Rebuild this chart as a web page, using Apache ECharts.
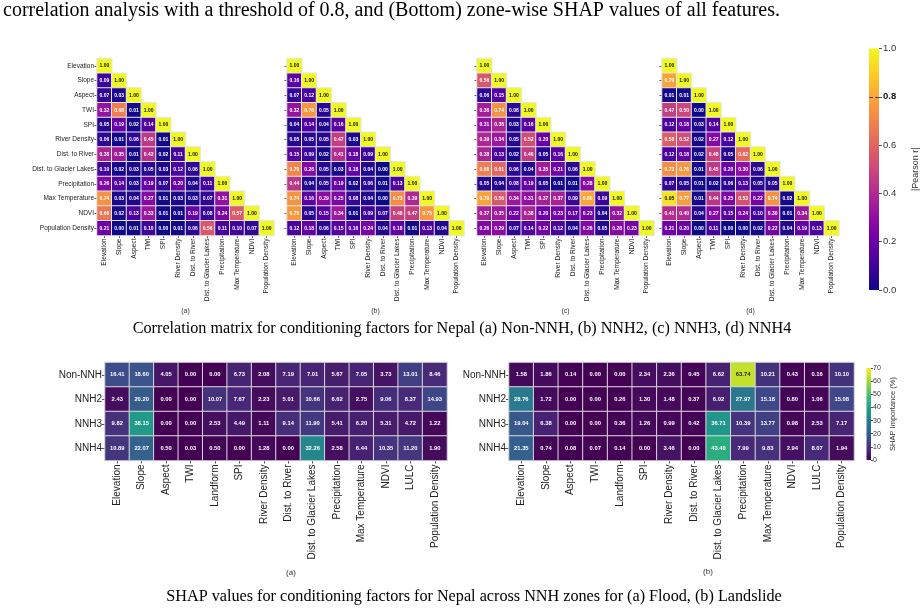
<!DOCTYPE html>
<html>
<head>
<meta charset="utf-8">
<script src="https://cdn.jsdelivr.net/npm/echarts@6.0.0/dist/echarts.min.js"></script>
<style>html,body{margin:0;background:#fff}#chart{width:921px;height:612px}</style>
</head>
<body>
<div id="chart"></div>
<script>
var corrFactors = ['Elevation', 'Slope', 'Aspect', 'TWI', 'SPI', 'River Density', 'Dist. to River',
  'Dist. to Glacier Lakes', 'Precipitation', 'Max Temperature', 'NDVI', 'Population Density'];

// lower triangles of |Pearson r|, row by row
var corrNonNNH = [
  [1.00],
  [0.09, 1.00],
  [0.07, 0.03, 1.00],
  [0.32, 0.68, 0.01, 1.00],
  [0.05, 0.19, 0.02, 0.14, 1.00],
  [0.06, 0.01, 0.06, 0.45, 0.01, 1.00],
  [0.38, 0.35, 0.01, 0.42, 0.02, 0.11, 1.00],
  [0.10, 0.02, 0.03, 0.05, 0.03, 0.12, 0.06, 1.00],
  [0.26, 0.14, 0.03, 0.19, 0.07, 0.20, 0.04, 0.11, 1.00],
  [0.74, 0.03, 0.04, 0.27, 0.01, 0.03, 0.03, 0.07, 0.31, 1.00],
  [0.66, 0.02, 0.13, 0.33, 0.01, 0.01, 0.19, 0.08, 0.24, 0.57, 1.00],
  [0.21, 0.00, 0.01, 0.10, 0.00, 0.01, 0.06, 0.56, 0.11, 0.10, 0.07, 1.00]
];
var corrNNH2 = [
  [1.00],
  [0.16, 1.00],
  [0.07, 0.12, 1.00],
  [0.32, 0.76, 0.05, 1.00],
  [0.04, 0.14, 0.04, 0.16, 1.00],
  [0.05, 0.05, 0.05, 0.47, 0.03, 1.00],
  [0.15, 0.09, 0.02, 0.41, 0.18, 0.09, 1.00],
  [0.70, 0.26, 0.05, 0.03, 0.18, 0.04, 0.00, 1.00],
  [0.44, 0.04, 0.05, 0.19, 0.02, 0.06, 0.01, 0.13, 1.00],
  [0.74, 0.16, 0.29, 0.25, 0.08, 0.04, 0.00, 0.73, 0.39, 1.00],
  [0.76, 0.05, 0.15, 0.34, 0.01, 0.09, 0.07, 0.48, 0.47, 0.75, 1.00],
  [0.12, 0.18, 0.06, 0.15, 0.16, 0.24, 0.04, 0.18, 0.01, 0.13, 0.04, 1.00]
];
var corrNNH3 = [
  [1.00],
  [0.56, 1.00],
  [0.06, 0.15, 1.00],
  [0.36, 0.74, 0.06, 1.00],
  [0.31, 0.38, 0.03, 0.16, 1.00],
  [0.39, 0.34, 0.05, 0.52, 0.20, 1.00],
  [0.38, 0.13, 0.02, 0.46, 0.05, 0.16, 1.00],
  [0.68, 0.61, 0.06, 0.04, 0.35, 0.21, 0.06, 1.00],
  [0.05, 0.04, 0.08, 0.19, 0.05, 0.01, 0.01, 0.28, 1.00],
  [0.79, 0.56, 0.34, 0.31, 0.37, 0.37, 0.09, 0.80, 0.09, 1.00],
  [0.37, 0.35, 0.22, 0.38, 0.20, 0.23, 0.17, 0.23, 0.04, 0.32, 1.00],
  [0.26, 0.29, 0.07, 0.14, 0.22, 0.12, 0.04, 0.26, 0.05, 0.28, 0.23, 1.00]
];
var corrNNH4 = [
  [1.00],
  [0.79, 1.00],
  [0.01, 0.01, 1.00],
  [0.47, 0.50, 0.00, 1.00],
  [0.12, 0.18, 0.03, 0.14, 1.00],
  [0.58, 0.52, 0.02, 0.27, 0.12, 1.00],
  [0.12, 0.18, 0.02, 0.48, 0.05, 0.62, 1.00],
  [0.73, 0.76, 0.01, 0.45, 0.20, 0.30, 0.06, 1.00],
  [0.07, 0.05, 0.01, 0.02, 0.06, 0.13, 0.05, 0.05, 1.00],
  [0.95, 0.77, 0.01, 0.44, 0.25, 0.53, 0.22, 0.74, 0.02, 1.00],
  [0.41, 0.40, 0.04, 0.27, 0.15, 0.24, 0.10, 0.30, 0.01, 0.34, 1.00],
  [0.21, 0.20, 0.00, 0.11, 0.00, 0.00, 0.02, 0.22, 0.04, 0.19, 0.13, 1.00]
];
var corrPanels = ['(a)', '(b)', '(c)', '(d)'];

var shapFactors = ['Elevation', 'Slope', 'Aspect', 'TWI', 'Landform', 'SPI', 'River Density', 'Dist. to River',
  'Dist. to Glacier Lakes', 'Precipitation', 'Max Temperature', 'NDVI', 'LULC', 'Population Density'];
var shapZones = ['Non-NNH', 'NNH2', 'NNH3', 'NNH4'];
var shapFlood = [
  [16.41, 18.60, 4.05, 0.00, 0.00, 6.73, 2.08, 7.19, 7.01, 5.67, 7.05, 3.73, 13.01, 8.46],
  [2.43, 20.20, 0.00, 0.00, 10.07, 7.67, 2.23, 5.01, 10.66, 6.62, 2.75, 9.06, 8.37, 14.93],
  [9.82, 38.15, 0.00, 0.00, 2.53, 4.49, 1.11, 9.14, 11.90, 5.41, 6.20, 5.31, 4.72, 1.22],
  [10.89, 22.07, 0.50, 0.03, 0.50, 0.00, 1.28, 0.00, 32.26, 2.58, 6.44, 10.35, 11.20, 1.90]
];
var shapLandslide = [
  [1.58, 1.86, 0.14, 0.00, 0.00, 2.34, 2.36, 0.45, 6.62, 63.74, 10.21, 0.43, 0.16, 10.10],
  [28.76, 1.72, 0.00, 0.00, 0.26, 1.30, 1.48, 0.37, 6.02, 27.97, 15.18, 0.80, 1.06, 15.08],
  [19.04, 6.38, 0.00, 0.00, 0.36, 1.26, 0.99, 0.42, 36.71, 10.39, 13.77, 0.98, 2.53, 7.17],
  [21.35, 0.74, 0.08, 0.07, 0.14, 0.00, 3.46, 0.00, 43.40, 7.99, 9.83, 2.94, 8.07, 1.94]
];

var plasma = ['#0d0887', '#41049d', '#6a00a8', '#8f0da4', '#b12a90', '#cc4778',
  '#e16462', '#f2844b', '#fca636', '#fcce25', '#f0f921'];
var viridis = ['#440154', '#482878', '#3e4989', '#31688e', '#26828e', '#1f9e89',
  '#35b779', '#6ece58', '#b5de2b', '#fde725'];

var sans = '"Liberation Sans", Arial, sans-serif';
var serif = '"Liberation Serif", "Times New Roman", serif';

var chart = echarts.init(document.getElementById('chart'));

function triData(rows) {
  var out = [];
  rows.forEach(function (row, i) {
    row.forEach(function (v, j) {
      out.push({ value: [j, i, v], label: { color: v > 0.9 ? '#111' : '#fff' } });
    });
  });
  return out;
}
function gridData(rows) {
  var out = [];
  rows.forEach(function (row, i) {
    row.forEach(function (v, j) {
      out.push({ value: [j, i, v], label: { color: v > 50 ? '#222' : '#fff' } });
    });
  });
  return out;
}
function stops(cols) {
  return cols.map(function (c, i) { return { offset: i / (cols.length - 1), color: c }; });
}

var corrLeft = [97, 287, 477, 662];
var corrSets = [corrNonNNH, corrNNH2, corrNNH3, corrNNH4];
var grids = [], xAxes = [], yAxes = [], series = [];

corrSets.forEach(function (set, k) {
  grids.push({ left: corrLeft[k], top: 58.5, width: 177, height: 177 });
  xAxes.push({
    type: 'category', gridIndex: k, data: corrFactors, splitArea: { show: false },
    axisLine: { show: false },
    axisTick: { show: true, alignWithLabel: true, length: 2.5, lineStyle: { color: '#555' } },
    axisLabel: { rotate: 90, interval: 0, fontSize: 6.6, fontFamily: sans, color: '#222', margin: 3 }
  });
  yAxes.push({
    type: 'category', gridIndex: k, data: corrFactors, inverse: true, splitArea: { show: false },
    axisLine: { show: false },
    axisTick: { show: true, alignWithLabel: true, length: 2.5, lineStyle: { color: '#555' } },
    axisLabel: { show: k === 0, interval: 0, fontSize: 6.5, fontFamily: sans, color: '#222', margin: 3 }
  });
  series.push({
    type: 'heatmap', xAxisIndex: k, yAxisIndex: k, data: triData(set),
    itemStyle: { borderColor: '#e6e6e6', borderWidth: 1 },
    label: {
      show: true, fontSize: 5, fontWeight: 'bold', fontFamily: sans,
      formatter: function (p) { return p.value[2].toFixed(2); }
    },
    emphasis: { disabled: true }
  });
});

var shapLeft = [105, 509];
var shapWidth = [342, 345];
[shapFlood, shapLandslide].forEach(function (set, k) {
  var gi = 4 + k;
  grids.push({ left: shapLeft[k], top: 362.5, width: shapWidth[k], height: 98 });
  xAxes.push({
    type: 'category', gridIndex: gi, data: shapFactors, splitArea: { show: false },
    axisLine: { show: false },
    axisTick: { show: true, alignWithLabel: true, length: 3, lineStyle: { color: '#555' } },
    axisLabel: { rotate: 90, interval: 0, fontSize: 10, fontFamily: sans, color: '#222', margin: 4 }
  });
  yAxes.push({
    type: 'category', gridIndex: gi, data: shapZones, inverse: true, splitArea: { show: false },
    axisLine: { show: false },
    axisTick: { show: true, alignWithLabel: true, length: 3, lineStyle: { color: '#555' } },
    axisLabel: { interval: 0, fontSize: 10, fontFamily: sans, color: '#222', margin: 3 }
  });
  series.push({
    type: 'heatmap', xAxisIndex: gi, yAxisIndex: gi, data: gridData(set),
    itemStyle: { borderColor: '#d8d8d8', borderWidth: 1 },
    label: {
      show: true, fontSize: 5.8, fontWeight: 'bold', fontFamily: sans,
      formatter: function (p) { return p.value[2].toFixed(2); }
    },
    emphasis: { disabled: true }
  });
});

// colour bars
grids.push({ left: 869, top: 48.5, width: 10, height: 241.5 });
xAxes.push({ type: 'category', gridIndex: 6, data: [''], show: false });
yAxes.push({
  type: 'value', gridIndex: 6, min: 0, max: 1, interval: 0.2, position: 'right',
  name: '|Pearson r|', nameLocation: 'middle', nameRotate: 90, nameGap: 32,
  nameTextStyle: { fontSize: 9, fontFamily: sans, color: '#333' },
  axisLine: { show: false }, splitLine: { show: false },
  axisTick: { show: true, length: 3, lineStyle: { color: '#555' } },
  axisLabel: {
    fontSize: 9.5, fontFamily: sans, color: '#333', margin: 4,
    formatter: function (v) {
      var s = v.toFixed(1);
      return Math.abs(v - 0.8) < 1e-6 ? '{b|' + s + '}' : s;
    },
    rich: { b: { fontWeight: 'bold', fontSize: 9.5, fontFamily: sans, color: '#111' } }
  }
});
series.push({
  type: 'bar', xAxisIndex: 6, yAxisIndex: 6, data: [1], barWidth: '100%', silent: true,
  itemStyle: { color: new echarts.graphic.LinearGradient(0, 1, 0, 0, stops(plasma)) },
  markLine: {
    silent: true, symbol: ['none', 'none'], label: { show: false },
    lineStyle: { type: 'dashed', color: '#444', width: 1 },
    data: [{ yAxis: 0.8 }]
  }
});

grids.push({ left: 866.5, top: 368, width: 4.5, height: 92 });
xAxes.push({ type: 'category', gridIndex: 7, data: [''], show: false });
yAxes.push({
  type: 'value', gridIndex: 7, min: 0, max: 70, interval: 10, position: 'right',
  name: 'SHAP Importance (%)', nameLocation: 'middle', nameRotate: 90, nameGap: 18,
  nameTextStyle: { fontSize: 7.5, fontFamily: sans, color: '#333' },
  axisLine: { show: false }, splitLine: { show: false },
  axisTick: { show: true, length: 2, lineStyle: { color: '#555' } },
  axisLabel: { fontSize: 7, fontFamily: sans, color: '#333', margin: 2 }
});
series.push({
  type: 'bar', xAxisIndex: 7, yAxisIndex: 7, data: [70], barWidth: '100%', silent: true,
  itemStyle: { color: new echarts.graphic.LinearGradient(0, 1, 0, 0, stops(viridis)) }
});

var graphics = [
  { type: 'text', left: 3, top: 1, style: {
    text: 'correlation analysis with a threshold of 0.8, and (Bottom) zone-wise SHAP values of all features.',
    font: '20px ' + serif, fill: '#000' } },
  { type: 'text', x: 462, y: 329, style: {
    text: 'Correlation matrix for conditioning factors for Nepal (a) Non-NNH, (b) NNH2, (c) NNH3, (d) NNH4',
    font: '16.2px ' + serif, fill: '#000', textAlign: 'center', textVerticalAlign: 'middle' } },
  { type: 'text', x: 474, y: 597, style: {
    text: 'SHAP values for conditioning factors for Nepal across NNH zones for (a) Flood, (b) Landslide',
    font: '16.2px ' + serif, fill: '#000', textAlign: 'center', textVerticalAlign: 'middle' } },
  { type: 'text', x: 291, y: 573, style: { text: '(a)', font: '8px ' + sans, fill: '#333', textAlign: 'center', textVerticalAlign: 'middle' } },
  { type: 'text', x: 708, y: 572, style: { text: '(b)', font: '8px ' + sans, fill: '#333', textAlign: 'center', textVerticalAlign: 'middle' } }
];
corrPanels.forEach(function (t, k) {
  graphics.push({ type: 'text', x: corrLeft[k] + 88.5, y: 311, style: {
    text: t, font: '7px ' + sans, fill: '#333', textAlign: 'center', textVerticalAlign: 'middle' } });
});

var option = {
  backgroundColor: '#fff',
  animation: false,
  grid: grids,
  xAxis: xAxes,
  yAxis: yAxes,
  visualMap: [
    { type: 'continuous', show: false, min: 0, max: 1, dimension: 2, seriesIndex: [0, 1, 2, 3], inRange: { color: plasma } },
    { type: 'continuous', show: false, min: 0, max: 70, dimension: 2, seriesIndex: [4, 5], inRange: { color: viridis } }
  ],
  series: series,
  graphic: graphics
};
chart.setOption(option);
</script>
</body>
</html>
